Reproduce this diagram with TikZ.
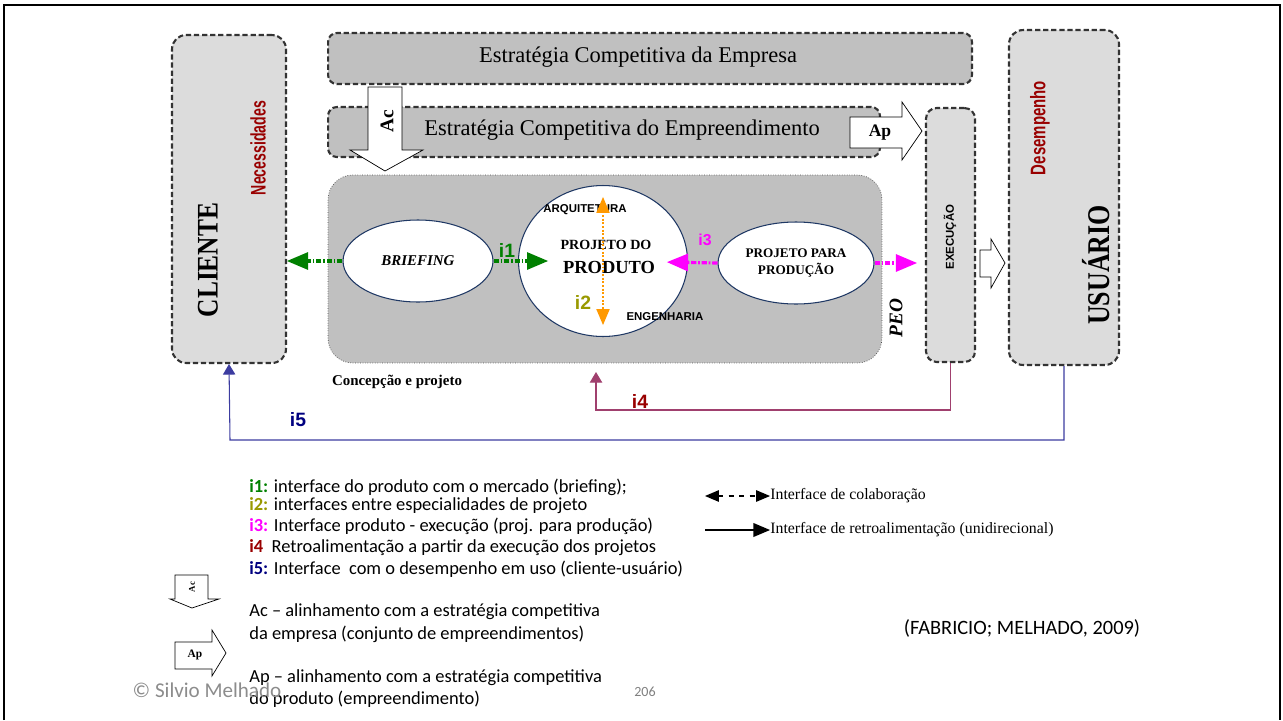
\documentclass[tikz,border=0pt]{standalone}
\usepackage{fontspec}
\usepackage{graphicx}
\setmainfont{Liberation Serif}
\setsansfont{Liberation Sans}
\newfontfamily\calibri{Carlito}
\usetikzlibrary{arrows}
\usetikzlibrary{arrows.meta}
\usetikzlibrary{shapes.geometric}

\definecolor{boxgray}{HTML}{C0C0C0}
\definecolor{palegray}{HTML}{DCDCDC}
\definecolor{darkred}{HTML}{990000}
\definecolor{ifgreen}{HTML}{008000}
\definecolor{iforange}{HTML}{FF9900}
\definecolor{ifolive}{HTML}{999900}
\definecolor{ifmagenta}{HTML}{FF00FF}
\definecolor{ifplum}{HTML}{A0406E}
\definecolor{ifblue}{HTML}{3C3CA0}
\definecolor{ifnavy}{HTML}{000080}
\definecolor{ellborder}{HTML}{1F3864}

\begin{document}
\begin{tikzpicture}[x=0.02cm, y=-0.02cm,
    dashbox/.style={draw=black!80, line width=1.2pt, dash pattern=on 3pt off 1.6pt},
    bigbox/.style={fill=boxgray, draw=black!70, densely dotted, rounded corners=14pt},
    bubble/.style={ellipse, fill=white, draw=ellborder, semithick, inner sep=0pt},
    blockarrow/.style={fill=white, draw=black, thin},
    i1line/.style={ifgreen, line width=1.8pt, dash pattern=on 3pt off 1pt on 1pt off 1pt, -triangle 45},
    i3line/.style={ifmagenta, line width=1.8pt, dash pattern=on 3pt off 1pt on 1pt off 1pt, -triangle 45},
    i2line/.style={iforange, line width=1.1pt, densely dotted, triangle 45-triangle 45},
    tag/.style={font=\sffamily\bfseries\fontsize{11}{11}\selectfont},
    legend/.style={anchor=west, font=\calibri\fontsize{10.5}{12}\selectfont, inner sep=0pt}]
    \useasboundingbox (0,0) rectangle (1283,720);
    % frame of the slide
    \draw[line width=1.2pt] (4,720) -- (4,5) -- (1280,5) -- (1280,720);

    % side boxes
    \node[dashbox, fill=palegray, rounded corners=8pt, minimum width=2.28cm, minimum height=6.56cm] (cli) at (229,199) {};
    \node[dashbox, fill=palegray, rounded corners=8pt, minimum width=2.2cm, minimum height=6.7cm] (usr) at (1064,197.5) {};
    \node[dashbox, fill=palegray, rounded corners=6pt, minimum width=0.98cm, minimum height=5.08cm] (exe) at (950.5,235) {};
    \node[rotate=90] (clitxt) at (208,260) {\scalebox{0.85}[1]{\fontsize{17}{17}\selectfont\bfseries CLIENTE}};
    \node[rotate=90, text=darkred] (nec) at (258,148) {\scalebox{0.67}[1]{\sffamily\bfseries\fontsize{12}{12}\selectfont Necessidades}};
    \node[rotate=90] (usrtxt) at (1096,265) {\scalebox{0.82}[1]{\fontsize{18}{18}\selectfont\bfseries USUÁRIO}};
    \node[rotate=90, text=darkred] (des) at (1040,128) {\scalebox{0.71}[1]{\sffamily\bfseries\fontsize{12}{12}\selectfont Desempenho}};
    \node[rotate=90, font=\sffamily\bfseries\fontsize{6.5}{6.5}\selectfont] (exetxt) at (950,237) {EXECUÇÃO};

    % strategy bands
    \node[dashbox, fill=boxgray, rounded corners=5pt, minimum width=12.88cm, minimum height=1.02cm] (emp) at (650,58.5) {};
    \node[font=\fontsize{12.8}{14}\selectfont] at (638,57) {Estratégia Competitiva da Empresa};
    \node[dashbox, fill=boxgray, rounded corners=5pt, minimum width=11.04cm, minimum height=1.0cm] (emd) at (604,132) {};
    \node[font=\fontsize{12.8}{14}\selectfont] at (622,130) {Estratégia Competitiva do Empreendimento};

    % conception and design
    \node[bigbox, minimum width=11.08cm, minimum height=3.76cm] (peo) at (605,269) {};
    \node[font=\bfseries\fontsize{8.5}{9}\selectfont] (conc) at (397,382) {Concepção e projeto};
    \node[rotate=90, font=\bfseries\itshape\fontsize{11}{11}\selectfont] (peotxt) at (896,318) {PEO};

    \node[bubble, minimum width=3.0cm, minimum height=1.64cm, font=\bfseries\itshape\fontsize{8.5}{9}\selectfont] (brief) at (418,261) {BRIEFING};
    \node[bubble, minimum width=3.38cm, minimum height=3.02cm] (prod) at (603,261) {};
    \node[bubble, minimum width=3.12cm, minimum height=1.64cm, align=center, font=\bfseries\fontsize{7.5}{10}\selectfont] (ppp) at (796,263) {PROJETO PARA\\PRODUÇÃO};
    \node[font=\bfseries\fontsize{8}{8}\selectfont] (pdo) at (606,245) {PROJETO DO};
    \node[font=\bfseries\fontsize{10.5}{10.5}\selectfont] (pdt) at (609,267) {PRODUTO};
    \node[font=\sffamily\bfseries\fontsize{6.5}{6.5}\selectfont] (arq) at (585,210) {ARQUITETURA};
    \node[font=\sffamily\bfseries\fontsize{6.5}{6.5}\selectfont] (eng) at (665,317) {ENGENHARIA};

    % alignment arrows
    \draw[blockarrow] (368,87) -- (402,87) -- (402,150) -- (423,150) -- (385,171)
        -- (350,150) -- (368,150) -- cycle;
    \node[rotate=90, font=\bfseries\fontsize{11}{11}\selectfont] (ac) at (387,121) {Ac};
    \draw[blockarrow] (850,117) -- (902,117) -- (902,102) -- (922,131) -- (902,160)
        -- (902,148) -- (850,148) -- cycle;
    \node[font=\bfseries\fontsize{10}{10}\selectfont] (ap) at (880,133) {Ap};
    \draw[blockarrow] (980,250) -- (991,250) -- (991,239) -- (1005,263) -- (991,288)
        -- (991,277) -- (980,277) -- cycle;

    % interfaces
    \draw[i1line] (brief.west) -- (brief.west -| cli.east);
    \draw[i1line, shorten >=1.1cm] (brief.east) -- (prod.center);
    \draw[i3line, shorten >=1.28cm] (ppp.west) -- (prod.center);
    \draw[i3line, shorten >=0.16cm] (ppp.east) -- (ppp.east -| exe.west);
    \draw[i2line, shorten <=0.24cm, shorten >=0.24cm] (prod.north) -- (prod.south);
    \coordinate (i4end) at (596,372);
    \draw[ifplum, semithick, -{Triangle[width=7pt,length=6pt]}] (exe.south) |- (596,410) -- (i4end);
    \draw[ifblue, semithick, -{Triangle[width=7pt,length=6pt]}] (usr.south) |- (230,440) -- (cli.south);
    \node[tag, text=ifgreen] (i1) at (507,250) {i1};
    \node[tag, text=ifolive] (i2) at (583,302) {i2};
    \node[tag, text=ifmagenta, font=\sffamily\bfseries\fontsize{9}{9}\selectfont] (i3) at (705,240) {i3};
    \node[tag, text=darkred] (i4) at (640,401) {i4};
    \node[tag, text=ifnavy] (i5) at (298,420) {i5};

    % legend
    \node[legend] (l1) at (249,487) {\textcolor{ifgreen}{\bfseries i1:} interface do produto com o mercado (briefing);};
    \node[legend] (l2) at (249,506) {\textcolor{ifolive}{\bfseries i2:} interfaces entre especialidades de projeto};
    \node[legend] (l3) at (249,526) {\textcolor{ifmagenta}{\bfseries i3:} Interface produto - execução (proj. para produção)};
    \node[legend] (l4) at (249,548) {\textcolor{darkred}{\bfseries i4}\ \ Retroalimentação a partir da execução dos projetos};
    \node[legend] (l5) at (249,569) {\textcolor{ifnavy}{\bfseries i5:} Interface\ \ com o desempenho em uso (cliente-usuário)};
    \node[legend] (l6) at (249,612) {Ac – alinhamento com a estratégia competitiva};
    \node[legend] (l7) at (249,634) {da empresa (conjunto de empreendimentos)};
    \node[legend] (l8) at (249,678) {Ap – alinhamento com a estratégia competitiva};
    \node[legend] (l9) at (249,699) {do produto (empreendimento)};

    \node[anchor=west, font=\fontsize{9}{9}\selectfont, inner sep=0pt] (collab) at (770,496) {Interface de colaboração};
    \node[anchor=west, font=\fontsize{9}{9}\selectfont, inner sep=0pt] (retro) at (770,530) {Interface de retroalimentação (unidirecional)};
    \coordinate (collabl) at (705,496);
    \coordinate (retrol) at (705,530);
    \draw[thick, dashed, triangle 45-triangle 45] (collabl) -- (collab.west);
    \draw[very thick, -triangle 45] (retrol) -- (retro.west);

    \draw[blockarrow] (175,575) -- (208,575) -- (208,599) -- (219,599) -- (192,608)
        -- (170,599) -- (175,599) -- cycle;
    \node[rotate=90, font=\bfseries\fontsize{5}{5}\selectfont] (acl) at (192,587) {Ac};
    \draw[blockarrow] (175,642) -- (212,642) -- (212,630) -- (226,653) -- (212,676)
        -- (212,669) -- (175,669) -- cycle;
    \node[font=\bfseries\fontsize{6.5}{6.5}\selectfont] (apl) at (195,655) {Ap};

    \node[font=\calibri\fontsize{11.6}{12}\selectfont] (ref) at (1022,628) {(FABRICIO; MELHADO, 2009)};
    \node[text=black!45, font=\calibri\fontsize{12}{12}\selectfont] (copy) at (207,690) {© Silvio Melhado};
    \node[text=black!50, font=\calibri\fontsize{8}{8}\selectfont] (page) at (645,692) {206};
\end{tikzpicture}
\end{document}
